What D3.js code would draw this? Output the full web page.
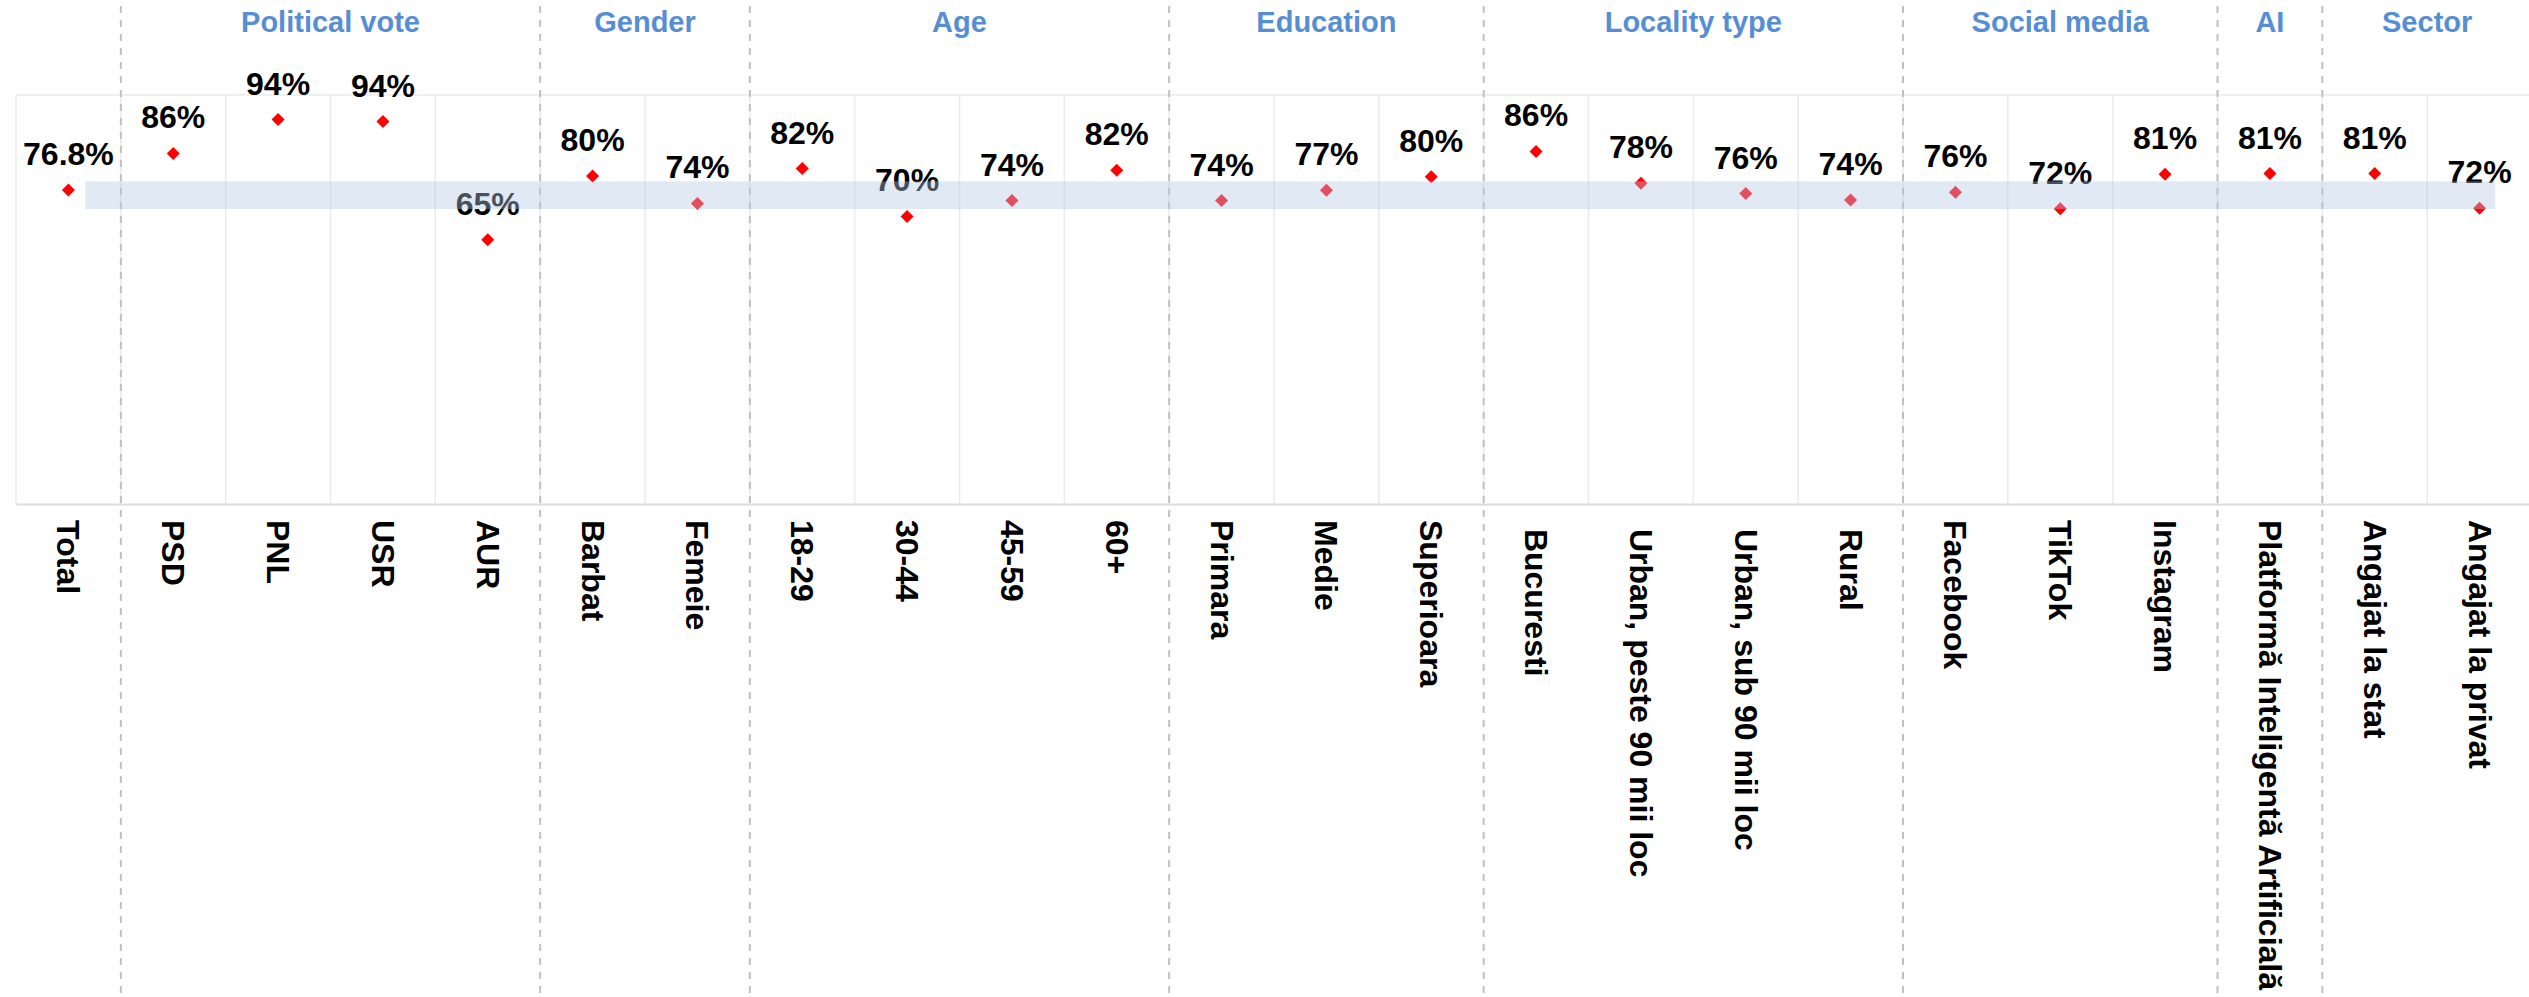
<!DOCTYPE html>
<html>
<head>
<meta charset="utf-8">
<script src="https://cdn.jsdelivr.net/npm/d3@7"></script>
<style>
  html, body { margin: 0; padding: 0; background: #ffffff; }
  svg { display: block; }
</style>
</head>
<body>
<svg id="chart" width="2529" height="997"></svg>
<script>
// ---- data ----
const categories = ["Total", "PSD", "PNL", "USR", "AUR", "Barbat", "Femeie",
  "18-29", "30-44", "45-59", "60+", "Primara", "Medie", "Superioara",
  " Bucuresti", " Urban, peste 90 mii loc", " Urban, sub 90 mii loc", " Rural",
  "Facebook", "TikTok", "Instagram", "Platformă Inteligentă Artificială",
  "Angajat la stat", "Angajat la privat"];
const values = [76.8, 85.7, 94.0, 93.5, 64.6, 80.2, 73.5,
  82.0, 70.3, 74.2, 81.6, 74.2, 76.7, 80.0,
  86.2, 78.4, 75.9, 74.3,
  76.2, 72.2, 80.6, 80.8,
  80.8, 72.3];
const groupOf = ["", "Political vote", "Political vote", "Political vote", "Political vote",
  "Gender", "Gender", "Age", "Age", "Age", "Age",
  "Education", "Education", "Education",
  "Locality type", "Locality type", "Locality type", "Locality type",
  "Social media", "Social media", "Social media", "AI", "Sector", "Sector"];
const groupNames = ["Political vote", "Gender", "Age", "Education", "Locality type", "Social media", "AI", "Sector"];
const bandRange = [72.1, 78.9];
const yDomain = [0, 100];

// ---- layout ----
const W = 2529, H = 997;
const plotLeft = 16, plotRight = 2532, plotTop = 95, plotBottom = 504;
const svg = d3.select("#chart");
svg.append("rect").attr("width", W).attr("height", H).attr("fill", "#ffffff");

const x = d3.scaleBand().domain(categories).range([plotLeft, plotRight]).padding(0);
const y = d3.scaleLinear().domain(yDomain).range([plotBottom, plotTop]);
const bw = x.bandwidth();
const cx = c => x(c) + bw / 2;

// gridlines
const grid = svg.append("g");
grid.selectAll("line.v").data(categories).join("line")
  .attr("x1", d => x(d)).attr("x2", d => x(d))
  .attr("y1", y(yDomain[1])).attr("y2", y(yDomain[0]))
  .attr("stroke", "#ebebeb").attr("stroke-width", 1.5);
grid.append("line")
  .attr("x1", plotLeft).attr("x2", plotRight)
  .attr("y1", y(yDomain[1])).attr("y2", y(yDomain[1]))
  .attr("stroke", "#ebebeb").attr("stroke-width", 1.5);

// x axis with rotated category labels
const axis = svg.append("g")
  .attr("transform", `translate(0,${y(yDomain[0])})`)
  .call(d3.axisBottom(x).tickSize(0).tickPadding(0));
axis.select(".domain").attr("stroke", "#dcdcdc").attr("stroke-width", 2);
axis.selectAll(".tick text")
  .attr("transform", "translate(0,16) rotate(90)")
  .attr("x", 0).attr("y", 0).attr("dy", null)
  .attr("text-anchor", "start")
  .attr("dominant-baseline", "central")
  .attr("xml:space", "preserve")
  .style("white-space", "pre")
  .attr("font-family", "'Liberation Sans', Arial, sans-serif")
  .attr("font-weight", "bold")
  .attr("font-size", 32)
  .attr("fill", "#000000");

// group extents
const groups = groupNames.map(g => {
  const members = categories.filter((c, i) => groupOf[i] === g);
  return { name: g, x0: x(members[0]), x1: x(members[members.length - 1]) + bw };
});

// dashed separators
const seps = groups.map(g => g.x0);
svg.append("g").selectAll("line").data(seps).join("line")
  .attr("x1", d => d).attr("x2", d => d)
  .attr("y1", 6).attr("y2", H)
  .attr("stroke", "#c0c0c0").attr("stroke-width", 2)
  .attr("stroke-dasharray", "7,7");

// group titles
svg.append("g").selectAll("text").data(groups).join("text")
  .attr("x", d => (d.x0 + d.x1) / 2)
  .attr("y", 32)
  .attr("text-anchor", "middle")
  .attr("font-family", "'Liberation Sans', Arial, sans-serif")
  .attr("font-weight", "bold")
  .attr("font-size", 29)
  .attr("fill", "#558ED5")
  .text(d => d.name);

// points
const pts = categories.map((c, i) => ({ c, v: values[i], i }));
svg.append("g").selectAll("path").data(pts).join("path")
  .attr("transform", d => `translate(${cx(d.c)},${y(d.v)})`)
  .attr("d", "M0,-6.5L6.5,0L0,6.5L-6.5,0Z")
  .attr("fill", "#ff0000");

const fmt1 = d3.format(".1f");
svg.append("g").selectAll("text").data(pts).join("text")
  .attr("x", d => cx(d.c))
  .attr("y", d => y(d.v) - 25)
  .attr("text-anchor", "middle")
  .attr("font-family", "'Liberation Sans', Arial, sans-serif")
  .attr("font-weight", "bold")
  .attr("font-size", 32)
  .attr("fill", "#000000")
  .text(d => (d.i === 0 ? fmt1(d.v) : Math.round(d.v)) + "%");

// translucent average band on top
const first = categories[0], last = categories[categories.length - 1];
svg.append("rect")
  .attr("x", cx(first) + bw * 0.16)
  .attr("width", (cx(last) + bw * 0.15) - (cx(first) + bw * 0.16))
  .attr("y", y(bandRange[1]))
  .attr("height", y(bandRange[0]) - y(bandRange[1]))
  .attr("fill", "#B4C7E7")
  .attr("fill-opacity", 0.4);
</script>
</body>
</html>
